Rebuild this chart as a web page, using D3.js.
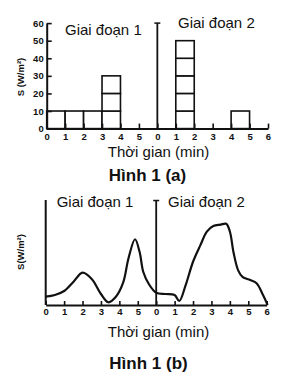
<!DOCTYPE html>
<html><head><meta charset="utf-8">
<script src="https://cdn.jsdelivr.net/npm/d3@7/dist/d3.min.js"></script>
<style>
html,body{margin:0;padding:0;background:#fff;}
svg{display:block;}
text{font-family:"Liberation Sans",Arial,Helvetica,sans-serif;fill:#111;}
</style></head>
<body>
<svg id="c" width="292" height="374"></svg>
<script>
// ---- data ----
const tickLabels = ["0","1","2","3","4","5","0","1","2","3","4","5","6"];
const yTicksA = [0,10,20,30,40,50,60];
const stage1Bars = [ {start:0, value:10}, {start:1, value:10}, {start:2, value:10}, {start:3, value:30} ];
const stage2Bars = [ {start:1, value:50}, {start:4, value:10} ];
const stageLabels = ["Giai đoạn 1", "Giai đoạn 2"];
// curve (b): time on a continuous 0-12 axis (stage 2 starts at 6), relative intensity 0-100
const curveT = [0,0.5,1,1.5,2,2.5,3,3.4,3.8,4.2,4.5,4.85,5.1,5.3,5.6,6,6.5,7,7.25,7.6,8,8.4,8.75,9.1,9.5,9.8,10.0,10.2,10.45,10.7,11.1,11.45,11.8,12.05];
const curveS = [7.9,9.5,13.3,21.9,30.8,24.8,10.5,2.6,7.6,21,44.8,62.6,50.5,31.4,20,11.7,10.5,9.5,3.8,19,41.2,57,69.8,75.2,76.5,77.3,70,50,33,26.5,23.8,20.7,9.5,0];

const svg = d3.select("#c");
const ink = "#111";

// ================= chart (a) =================
const xa = d3.scaleLinear().domain([0,12]).range([46.7,268]);
const ya = d3.scaleLinear().domain([0,60]).range([128.6,23.1]);
const ga = svg.append("g");

// bars as stacked cells of 10
const cells = [];
stage1Bars.forEach(b => { for (let v=0; v<b.value; v+=10) cells.push({x0:b.start, x1:b.start+1, y0:v, y1:v+10}); });
stage2Bars.forEach(b => { for (let v=0; v<b.value; v+=10) cells.push({x0:6+b.start, x1:6+b.start+1, y0:v, y1:v+10}); });
ga.selectAll("rect.cell").data(cells).join("rect")
  .attr("x", d=>xa(d.x0)).attr("width", d=>xa(d.x1)-xa(d.x0))
  .attr("y", d=>ya(d.y1)).attr("height", d=>ya(d.y0)-ya(d.y1))
  .attr("fill","#fff").attr("stroke",ink).attr("stroke-width",1.6);

// x axis
const xAxisA = d3.axisBottom(xa).tickValues(d3.range(0,13)).tickFormat((d,i)=>tickLabels[i])
  .tickSizeInner(-5).tickSizeOuter(0).tickPadding(9);
const gxa = ga.append("g").attr("transform",`translate(0,${ya(0)})`).call(xAxisA);
gxa.select(".domain").attr("stroke",ink).attr("stroke-width",2);
gxa.selectAll(".tick line").attr("stroke",ink).attr("stroke-width",1.6);
gxa.selectAll(".tick text").attr("font-size",9.5).attr("font-weight","bold").attr("dy","0.3em");

// y axis
const yAxisA = d3.axisLeft(ya).tickValues(yTicksA).tickSizeInner(-5).tickSizeOuter(0).tickPadding(4);
const gya = ga.append("g").attr("transform",`translate(${xa(0)},0)`).call(yAxisA);
gya.select(".domain").attr("stroke",ink).attr("stroke-width",2);
gya.selectAll(".tick line").attr("stroke",ink).attr("stroke-width",1.6);
gya.selectAll(".tick text").attr("font-size",9.5).attr("font-weight","bold").attr("x",-3);

// divider
ga.append("line").attr("x1",xa(6)).attr("x2",xa(6)).attr("y1",ya(60)).attr("y2",ya(0)).attr("stroke",ink).attr("stroke-width",1.8);
ga.append("line").attr("x1",xa(6)-3).attr("x2",xa(6)+3).attr("y1",ya(60)).attr("y2",ya(60)).attr("stroke",ink).attr("stroke-width",1.5);

ga.append("text").attr("x",65).attr("y",35).attr("font-size",15).text(stageLabels[0]);
ga.append("text").attr("x",178).attr("y",28).attr("font-size",15).text(stageLabels[1]);
ga.append("text").attr("transform","translate(23.5,77) rotate(-90)").attr("text-anchor","middle")
  .attr("font-size",9.5).attr("font-weight","bold").text("S (W/m²)");
ga.append("text").attr("x",158.5).attr("y",157).attr("text-anchor","middle").attr("font-size",15).text("Thời gian (min)");
ga.append("text").attr("x",147.5).attr("y",181).attr("text-anchor","middle").attr("font-size",17).attr("font-weight","bold").text("Hình 1 (a)");

// ================= chart (b) =================
const xb = d3.scaleLinear().domain([0,12]).range([45.7,266.7]);
const yb = d3.scaleLinear().domain([0,100]).range([305,200]);
const gb = svg.append("g");

const xAxisB = d3.axisBottom(xb).tickValues(d3.range(0,13)).tickFormat((d,i)=>tickLabels[i])
  .tickSizeInner(-4).tickSizeOuter(0).tickPadding(7);
const gxb = gb.append("g").attr("transform",`translate(0,${yb(0)})`).call(xAxisB);
gxb.select(".domain").attr("stroke",ink).attr("stroke-width",2);
gxb.selectAll(".tick line").attr("stroke",ink).attr("stroke-width",1.6);
gxb.selectAll(".tick text").attr("font-size",9.5).attr("font-weight","bold").attr("dy","0.3em");

gb.append("line").attr("x1",xb(0)).attr("x2",xb(0)).attr("y1",yb(100)).attr("y2",yb(0)).attr("stroke",ink).attr("stroke-width",2);
gb.append("line").attr("x1",xb(6)).attr("x2",xb(6)).attr("y1",yb(99.5)).attr("y2",yb(0)).attr("stroke",ink).attr("stroke-width",1.8);
gb.append("line").attr("x1",xb(6)-3).attr("x2",xb(6)+3).attr("y1",yb(99.5)).attr("y2",yb(99.5)).attr("stroke",ink).attr("stroke-width",1.5);

const pts = curveT.map((t,i)=>[t,curveS[i]]);
gb.append("path").datum(pts)
  .attr("d", d3.line().x(d=>xb(d[0])).y(d=>yb(d[1])).curve(d3.curveCatmullRom.alpha(0.5)))
  .attr("fill","none").attr("stroke",ink).attr("stroke-width",2.2).attr("stroke-linejoin","round");

gb.append("text").attr("x",56.7).attr("y",207).attr("font-size",15).text(stageLabels[0]);
gb.append("text").attr("x",168).attr("y",207).attr("font-size",15).text(stageLabels[1]);
gb.append("text").attr("transform","translate(24,252) rotate(-90)").attr("text-anchor","middle")
  .attr("font-size",9.5).attr("font-weight","bold").text("S(W/m²)");
gb.append("text").attr("x",158.5).attr("y",337).attr("text-anchor","middle").attr("font-size",15).text("Thời gian (min)");
gb.append("text").attr("x",148.5).attr("y",369).attr("text-anchor","middle").attr("font-size",17).attr("font-weight","bold").text("Hình 1 (b)");
</script>
</body></html>
